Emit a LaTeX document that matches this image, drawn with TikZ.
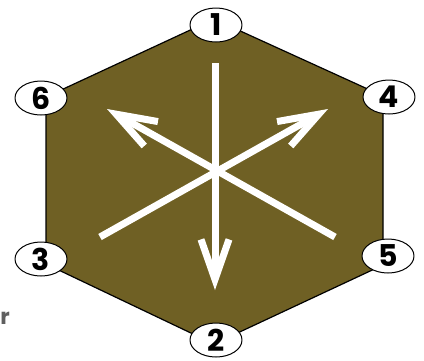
\documentclass[tikz,border=0pt]{standalone}
\usepackage{fontspec}
\setmainfont{Poppins}
\usetikzlibrary{arrows.meta,shapes.geometric}
\definecolor{hexfill}{RGB}{111,96,36}
\definecolor{straygray}{RGB}{95,95,95}
\tikzset{
  num/.style={ellipse,draw=black,fill=white,line width=1pt,minimum width=52pt,minimum height=34pt,
    inner sep=0pt,font=\fontsize{30}{30}\selectfont\bfseries},
  dirarrow/.style={white,line width=7pt,line cap=butt,-{Straight Barb[length=40pt,width=28pt,sharp]}}
}
\begin{document}
\begin{tikzpicture}[x=1pt,y=-1pt,line join=round]
	\useasboundingbox (0,0) rectangle (424,360);
	\coordinate (T) at (214,19);
	\coordinate (UR) at (383,96);
	\coordinate (LR) at (383,265);
	\coordinate (B) at (214,344);
	\coordinate (LL) at (46,264);
	\coordinate (UL) at (46,97);
	\draw[fill=hexfill,line width=1.2pt,line join=miter] (T)--(UR)--(LR)--(B)--(LL)--(UL)--cycle;
	% arrows
	\coordinate (up) at (215,63);
	\coordinate (down) at (215,290);
	\coordinate (tailL) at (100,237);
	\coordinate (tipR) at (328,109);
	\coordinate (tailR) at (335,237);
	\coordinate (tipL) at (107,109);
	\draw[dirarrow] (up)--(down);
	\draw[dirarrow] (tailL)--(tipR);
	\draw[dirarrow] (tailR)--(tipL);
	% labels
	\node[num] (n1) at (216,25) {1};
	\node[num] (n2) at (216,340) {2};
	\node[num] (n3) at (41,259) {3};
	\node[num] (n4) at (389,97) {4};
	\node[num] (n5) at (388,256) {5};
	\node[num] (n6) at (41,98) {6};
	\node[text=straygray,font=\fontsize{22}{22}\selectfont\bfseries] (r) at (5,318) {r};
\end{tikzpicture}
\end{document}
